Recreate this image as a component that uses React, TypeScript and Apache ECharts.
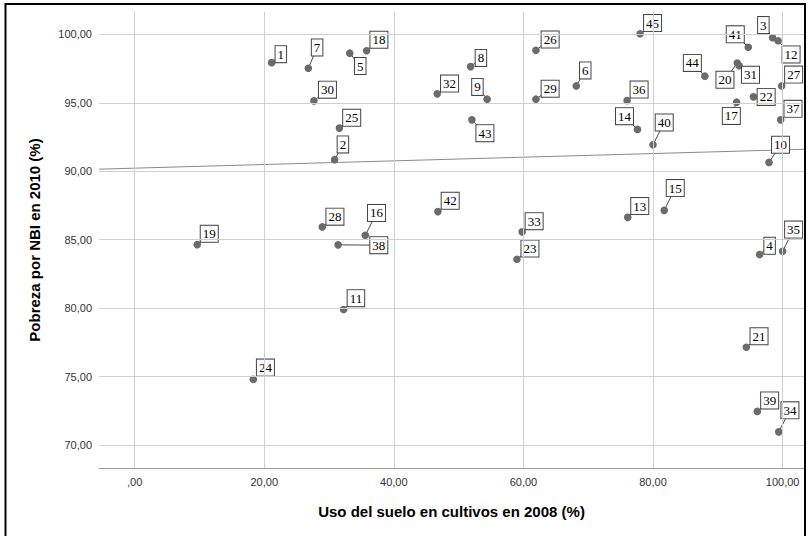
import React, { useEffect, useRef } from "react";
import * as echarts from "echarts";

// Municipality ids (point labels)
const ids = [
  1, 2, 3, 4, 5, 6, 7, 8, 9, 10, 11, 12, 13, 14, 15, 16, 17, 18, 19, 20, 21, 22, 23,
  24, 25, 26, 27, 28, 29, 30, 31, 32, 33, 34, 35, 36, 37, 38, 39, 40, 41, 42, 43, 44, 45,
];
// Uso del suelo en cultivos en 2008 (%)
const cropUse = [
  21.14, 30.86, 98.45, 96.45, 33.2, 68.15, 26.8, 51.85, 54.4, 97.9, 32.25, 99.3, 76.1,
  77.6, 81.73, 35.6, 92.9, 35.8, 9.66, 93.0, 94.4, 95.5, 59.0, 18.3, 31.6, 61.93, 99.85,
  28.95, 61.93, 27.67, 93.3, 46.7, 59.8, 99.4, 100.0, 76.0, 99.7, 31.4, 96.1, 80.0, 94.7,
  46.8, 52.05, 88.0, 78.0,
];
// Pobreza por NBI en 2010 (%)
const poverty = [
  97.93, 90.84, 99.75, 83.91, 98.62, 96.23, 97.52, 97.64, 95.26, 90.64, 79.9, 99.53,
  86.63, 93.05, 87.14, 85.32, 95.04, 98.8, 84.64, 97.9, 77.14, 95.43, 83.57, 74.85, 93.15,
  98.83, 96.23, 85.93, 95.26, 95.14, 97.7, 95.65, 85.57, 70.96, 84.15, 95.16, 93.75, 84.62,
  72.45, 91.93, 99.05, 87.05, 93.75, 96.94, 100.04,
];
// Fit line end points
const fitLine = [
  [-5.5, 90.15],
  [103.3, 91.6],
];
const xTicks = [0, 20, 40, 60, 80, 100];
const yTicks = [70, 75, 80, 85, 90, 95, 100];

// label placement (pixel offsets of label box centre from point)
const labelDx = [
  9.2, 8.3, -9.2, 10, 10.5, 9, 8.8, 10.3, -9.7, 11.5, 12.3, 13, 12, -13, 11, 11.2, -5.3,
  12.3, 12, -12.3, 12.7, 12.7, 13, 12.2, 12.3, 14.2, 12, 12.7, 14.2, 13.5, 11.3, 12.3, 12,
  11.2, 11, 12, 12.3, 40.7, 12.3, 11.2, -13, 12.3, 13, -12.5, 12.5,
];
const labelDy = [
  -8.5, -15.3, -12.7, -8.8, 12.8, -15.5, -20.8, -8.7, -12.3, -17.7, -11.3, 13.7, -11.3,
  -13.3, -22.3, -22.3, 13.7, -11, -10.8, 16.7, -11, 0, -10.7, -11, -10.3, -10.8, -11.3,
  -10.3, -10.5, -11.2, 9, -10.3, -10.7, -21.5, -21.7, -11, -11, 0.3, -11, -22.3, -13,
  -10.8, 13.3, -13.3, -10.7,
];

const fmt = (v: number) => (v === 0 ? ",00" : v.toFixed(2).replace(".", ","));

export default function App() {
  const ref = useRef<HTMLDivElement>(null);
  useEffect(() => {
    if (!ref.current) return;
    const chart = echarts.init(ref.current, undefined, { renderer: "svg" });
    const points = ids.map((id, i) => [cropUse[i], poverty[i], id]);
    const gridLineStyle = { color: "#d0d0d0", width: 1, type: "solid" };
    const option: any = {
      animation: false,
      backgroundColor: "#fff",
      grid: { left: 99, top: 12, right: 4, bottom: 68, containLabel: false },
      xAxis: {
        type: "value",
        min: -5.5,
        max: 103.3,
        name: "Uso del suelo en cultivos en 2008 (%)",
        nameLocation: "middle",
        nameGap: 36,
        nameTextStyle: {
          fontFamily: "Liberation Sans",
          fontWeight: "bold",
          fontSize: 15,
          color: "#000",
        },
        axisLine: { show: true, lineStyle: { color: "#9a9a9a", width: 1 } },
        axisTick: { show: false },
        splitLine: { show: false },
        axisLabel: {
          customValues: xTicks,
          formatter: (v: number) => fmt(v),
          fontFamily: "Liberation Sans",
          fontSize: 11,
          color: "#333",
          margin: 8,
        },
      },
      yAxis: {
        type: "value",
        min: 68.32,
        max: 101.63,
        name: "Pobreza por NBI en 2010 (%)",
        nameLocation: "middle",
        nameGap: 57,
        nameTextStyle: {
          fontFamily: "Liberation Sans",
          fontWeight: "bold",
          fontSize: 15,
          color: "#000",
        },
        axisLine: { show: true, lineStyle: { color: "#9a9a9a", width: 1 } },
        axisTick: { show: false },
        splitLine: { show: false },
        axisLabel: {
          customValues: yTicks,
          formatter: (v: number) => fmt(v),
          fontFamily: "Liberation Sans",
          fontSize: 11,
          color: "#333",
          margin: 7,
        },
      },
      graphic: [
        {
          type: "rect",
          shape: { x: 5.5, y: 4, width: 799.5, height: 600 },
          style: { fill: "none", stroke: "#000", lineWidth: 2 },
          silent: true,
          z: 100,
        },
      ],
      series: [
        {
          type: "line",
          data: [],
          z: 1,
          silent: true,
          markLine: {
            silent: true,
            symbol: "none",
            label: { show: false },
            lineStyle: gridLineStyle,
            data: [
              ...xTicks.map((v) => ({ xAxis: v })),
              ...yTicks.map((v) => ({ yAxis: v })),
            ],
          },
        },
        {
          type: "line",
          data: fitLine,
          z: 2,
          silent: true,
          symbol: "none",
          lineStyle: { color: "#8a8a8a", width: 1 },
        },
        {
          type: "custom",
          z: 3,
          data: points,
          renderItem: (params: any, api: any) => {
            const i = params.dataIndex;
            const p = api.coord([api.value(0), api.value(1)]);
            const lx = p[0] + labelDx[i];
            const ly = p[1] + labelDy[i];
            return {
              type: "group",
              children: [
                {
                  type: "line",
                  shape: { x1: p[0], y1: p[1], x2: lx, y2: ly },
                  style: { stroke: "#4a4a4a", lineWidth: 1 },
                },
                {
                  type: "circle",
                  shape: { cx: p[0], cy: p[1], r: 3.8 },
                  style: { fill: "#6b6b6b" },
                },
                {
                  type: "text",
                  x: lx,
                  y: ly,
                  style: {
                    text: String(api.value(2)),
                    align: "center",
                    verticalAlign: "middle",
                    fontFamily: "Liberation Serif",
                    fontSize: 13,
                    fill: "#000",
                    backgroundColor: "#fff",
                    borderColor: "#444",
                    borderWidth: 1,
                    padding: [2, 2, 1, 2],
                  },
                },
              ],
            };
          },
        },
      ],
    };
    chart.setOption(option);
    return () => chart.dispose();
  }, []);
  return (
    <div
      ref={ref}
      style={{ position: "fixed", left: 0, top: 0, width: 808, height: 536 }}
    />
  );
}
